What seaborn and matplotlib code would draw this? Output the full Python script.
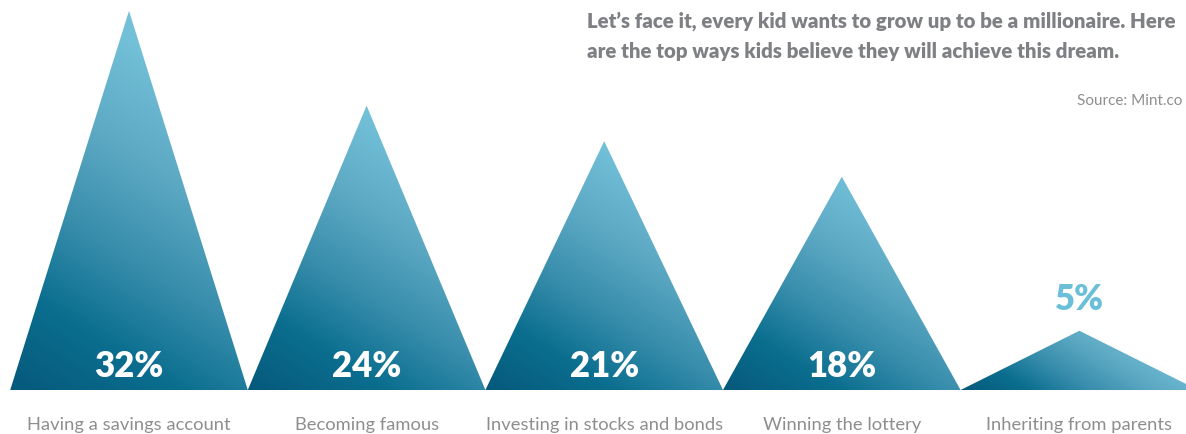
import numpy as np
import matplotlib
matplotlib.use("Agg")
import matplotlib.pyplot as plt
import seaborn as sns
from matplotlib.patches import Polygon

# Share of kids naming each route to becoming a millionaire
categories = ["Having a savings account", "Becoming famous",
              "Investing in stocks and bonds", "Winning the lottery",
              "Inheriting from parents"]
shares = [32, 24, 21, 18, 5]
share_labels = ["32%", "24%", "21%", "18%", "5%"]

title_lines = ["Let\u2019s face it, every kid wants to grow up to be a millionaire. Here",
               "are the top ways kids believe they will achieve this dream."]
source_text = "Source: Mint.co"

sns.set_theme(style="white")
plt.rcParams["font.family"] = ["Lato", "DejaVu Sans"]

W, H, DPI = 1186, 435, 100
fig = plt.figure(figsize=(W / DPI, H / DPI), dpi=DPI)
fig.patch.set_facecolor("white")

base_px = 391          # baseline, pixels from top
first_center_px = 129
step_px = 237.6
ytop = 33.0            # value at the very top of the axes

ax = fig.add_axes([0, (H - base_px) / H, 1, base_px / H])
ax.set_xlim(-first_center_px / step_px, (W - first_center_px) / step_px)
ax.set_ylim(0, ytop)
ax.axis("off")

cmap = sns.blend_palette(["#06597b", "#0b6e8f", "#3a8fad", "#5eaac5",
                          "#72bfd8", "#7cc8df"], as_cmap=True)

px_per_x = step_px
px_per_y = base_px / ytop
ang = np.deg2rad(58)

for i, v in enumerate(shares):
    x0, x1 = i - 0.5, i + 0.5
    tri = Polygon([[x0, 0], [i, v], [x1, 0]], closed=True,
                  facecolor="none", edgecolor="none")
    ax.add_patch(tri)
    gx = np.linspace(x0, x1, 300)
    gy = np.linspace(0, v, 300)
    XX, YY = np.meshgrid(gx, gy)
    proj = ((XX - x0) * px_per_x * np.cos(ang) + YY * px_per_y * np.sin(ang))
    t = (proj - proj.min()) / (proj.max() - proj.min())
    im = ax.imshow(t, cmap=cmap, origin="lower", extent=[x0, x1, 0, v],
                   aspect="auto", interpolation="bilinear", vmin=0, vmax=1)
    im.set_clip_path(tri)

# Value labels: inside the tall peaks, above the small one
for i, (v, lab) in enumerate(zip(shares, share_labels)):
    if v >= 10:
        ax.text(i, 2.1, lab, ha="center", va="center", color="white",
                fontsize=25, fontweight="heavy")
    else:
        ax.text(i, v + 2.7, lab, ha="center", va="center",
                color="#6bbfd9", fontsize=25, fontweight="heavy")

# Category labels under each peak
for i, c in enumerate(categories):
    fig.text((first_center_px + i * step_px) / W, 1 - 425 / H, c,
             ha="center", va="center", color="#8e8e8e", fontsize=13.2,
             fontweight="normal")

fig.text(587 / W, 1 - 21 / H, title_lines[0], ha="left", va="center",
         color="#7f8084", fontsize=14.7, fontweight="heavy")
fig.text(587 / W, 1 - 52 / H, title_lines[1], ha="left", va="center",
         color="#7f8084", fontsize=14.7, fontweight="heavy")
fig.text(1182 / W, 1 - 101 / H, source_text, ha="right", va="center",
         color="#8e8e8e", fontsize=11, fontweight="normal")

sns.despine(fig=fig, left=True, bottom=True)
fig.savefig("out.png", dpi=DPI, facecolor="white")
